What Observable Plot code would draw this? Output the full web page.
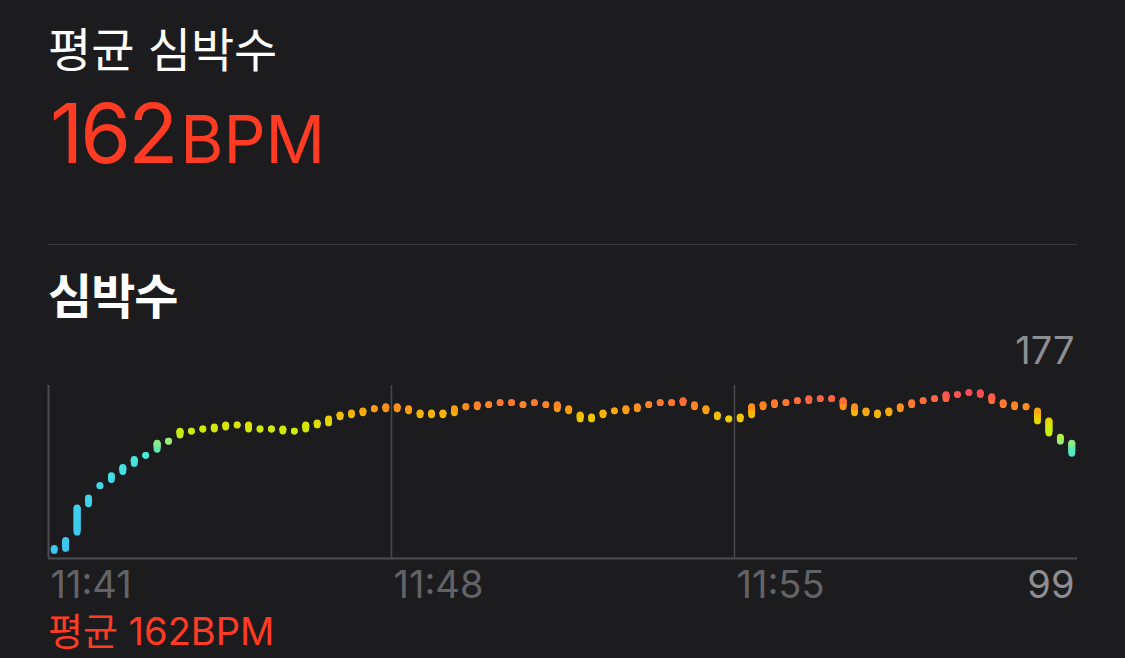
<!DOCTYPE html>
<html lang="ko">
<head>
<meta charset="utf-8">
<script src="https://cdn.jsdelivr.net/npm/d3@7"></script>
<script src="https://cdn.jsdelivr.net/npm/@observablehq/plot@0.6"></script>
<style>
  html, body { margin: 0; padding: 0; background: #1c1c1e; }
  #page { position: relative; width: 1125px; height: 658px; overflow: hidden; background: #1c1c1e; }
  #head { position: absolute; left: 0; top: 0; overflow: visible; }
  #chart { position: absolute; left: 0; top: 320px; }
  #foot { position: absolute; left: 0; top: 600px; overflow: visible; }
</style>
</head>
<body>
<div id="page">
  <svg id="head" width="1125" height="330"></svg>
  <div id="chart"></div>
  <svg id="foot" width="1125" height="58"></svg>
</div>
<script>
// Heart-rate samples: one reading window every 14 s, low/high bpm of each window
const times = [
  "11:41:07","11:41:21","11:41:35","11:41:49","11:42:03","11:42:17","11:42:31","11:42:45","11:42:59","11:43:13",
  "11:43:27","11:43:41","11:43:55","11:44:09","11:44:23","11:44:37","11:44:51","11:45:05","11:45:19","11:45:33",
  "11:45:47","11:46:01","11:46:15","11:46:29","11:46:43","11:46:57","11:47:11","11:47:25","11:47:39","11:47:53",
  "11:48:07","11:48:21","11:48:35","11:48:49","11:49:03","11:49:17","11:49:31","11:49:45","11:49:59","11:50:13",
  "11:50:27","11:50:41","11:50:55","11:51:09","11:51:23","11:51:37","11:51:51","11:52:05","11:52:19","11:52:33",
  "11:52:47","11:53:01","11:53:15","11:53:29","11:53:43","11:53:57","11:54:11","11:54:25","11:54:39","11:54:53",
  "11:55:07","11:55:21","11:55:35","11:55:49","11:56:03","11:56:17","11:56:31","11:56:45","11:56:59","11:57:13",
  "11:57:27","11:57:41","11:57:55","11:58:09","11:58:23","11:58:37","11:58:51","11:59:05","11:59:19","11:59:33",
  "11:59:47","12:00:01","12:00:15","12:00:29","12:00:43","12:00:57","12:01:11","12:01:25","12:01:39","12:01:53"
];
const lows = [
   99,100,108,122,131,134,138,142,146,149,
  153,156,158,159,159,160,161,159,159,159,
  158,158,159,161,162,165,166,167,169,169,
  169,168,166,166,166,167,170,170,171,172,
  172,171,172,171,169,168,164,164,166,168,
  168,169,171,172,172,172,170,168,165,164,
  164,166,170,171,172,173,173,174,174,170,
  167,167,166,167,169,171,173,174,174,176,
  177,176,173,171,170,170,163,157,153,147
];
const highs = [
  100,104,120,125,131,136,140,144,146,152,
  153,158,158,159,160,161,161,161,159,159,
  159,158,161,162,164,166,167,168,169,170,
  170,169,167,167,167,169,170,171,171,172,
  172,171,172,171,171,169,166,165,167,168,
  169,170,171,172,172,173,171,169,166,164,
  165,170,171,172,172,173,174,174,174,173,
  170,168,167,168,170,172,173,174,176,176,
  177,177,175,172,171,170,168,163,155,152
];

// Axis ticks and the window of the chart
const xTicks = ["11:41", "11:48", "11:55"];
const xStart = "11:41:00";
const xEnd = "12:02:00";
const yDomain = [95, 180.5];

// Average heart rate for the workout
const avgBpm = 162;

// Heart-rate colour ramp (bpm -> colour)
const colorStops = [99, 125, 140, 146, 150, 153, 157, 161, 164, 167, 170, 173, 177];
const colorRange = ["#3cc6f0", "#3ed2ec", "#42dfe4", "#46e8d0", "#6ee6a4", "#98ee78", "#c6f010", "#dae400", "#ecce00", "#f8b208", "#ff8e1c", "#ff6c3a", "#ff4a58"];

const RED = "#ff3b24";

const parseT = d3.timeParse("%H:%M:%S");
const parseHM = d3.timeParse("%H:%M");
const data = times.map((t, i) => ({t: parseT(t), lo: lows[i], hi: highs[i]}));
const tickDates = xTicks.map(parseHM);

// Split each range bar into short overlapping pieces so it carries the colour gradient
const pieces = [];
for (const d of data) {
  for (let v = d.lo; v < d.hi; v += 0.25) {
    pieces.push({t: d.t, y1: v, y2: Math.min(v + 0.75, d.hi), c: v + 0.125});
  }
}

const yMax = d3.max(data, d => d.hi);
const yMin = d3.min(data, d => d.lo);

const chart = Plot.plot({
  width: 1125,
  height: 290,
  marginTop: 65,
  marginBottom: 52,
  marginLeft: 48,
  marginRight: 48,
  style: {background: "transparent", fontFamily: "Inter, 'Noto Sans', sans-serif", fontSize: "38px", overflow: "visible"},
  x: {type: "time", domain: [parseT(xStart), parseT(xEnd)], axis: null},
  y: {domain: yDomain, axis: null},
  color: {type: "linear", domain: colorStops, range: colorRange},
  marks: [
    Plot.ruleX(tickDates.slice(1), {stroke: "#48484c", strokeWidth: 1.5}),
    Plot.ruleX([tickDates[0]], {stroke: "#4c4c50", strokeWidth: 2}),
    Plot.ruleY([yDomain[0]], {stroke: "#4c4c50", strokeWidth: 2}),
    Plot.ruleX(pieces, {x: "t", y1: "y1", y2: "y2", stroke: "c", strokeWidth: 6.8, strokeLinecap: "butt"}),
    Plot.dot(data, {x: "t", y: "lo", r: 3.4, fill: "lo"}),
    Plot.dot(data, {x: "t", y: "hi", r: 3.4, fill: "hi"}),
    Plot.text(tickDates, {
      x: d => d, frameAnchor: "bottom", text: d3.timeFormat("%H:%M"),
      textAnchor: "start", lineAnchor: "bottom", dx: 2, dy: 39,
      fill: "#636366", fontSize: 38
    }),
    Plot.text([yMax], {
      frameAnchor: "top-right", text: d => String(d),
      textAnchor: "end", lineAnchor: "bottom", dx: -3, dy: -22,
      fill: "#8e8e93", fontSize: 38
    }),
    Plot.text([yMin], {
      frameAnchor: "bottom-right", text: d => String(d),
      textAnchor: "end", lineAnchor: "bottom", dx: -3, dy: 39,
      fill: "#8e8e93", fontSize: 38
    })
  ]
});
document.getElementById("chart").appendChild(chart);

// Header: title, big average, divider and section title
const head = d3.select("#head");
head.append("text")
  .attr("x", 48).attr("y", 67)
  .attr("fill", "#ffffff")
  .style("font", "400 47px 'Noto Sans CJK KR', sans-serif")
  .text("평균 심박수");
const big = head.append("text")
  .attr("x", 50).attr("y", 163)
  .attr("fill", RED)
  .style("font-family", "Inter, sans-serif");
big.append("tspan").style("font-size", "82px").style("font-weight", 400).style("letter-spacing", "-3px").text(String(avgBpm));
big.append("tspan").attr("dx", 5).style("font-size", "66px").style("font-weight", 400).text("BPM");
head.append("line")
  .attr("x1", 48).attr("x2", 1077).attr("y1", 244.5).attr("y2", 244.5)
  .attr("stroke", "#3a3a3c").attr("stroke-width", 1);
head.append("text")
  .attr("x", 48).attr("y", 314)
  .attr("fill", "#ffffff")
  .style("font", "700 48px 'Noto Sans CJK KR', sans-serif")
  .style("letter-spacing", "-1px")
  .text("심박수");

// Footer: average line under the chart
d3.select("#foot").append("text")
  .attr("x", 48).attr("y", 45)
  .attr("fill", RED)
  .style("font", "400 38px Inter, 'Noto Sans CJK KR', sans-serif")
  .text(`평균 ${avgBpm}BPM`);
</script>
</body>
</html>
